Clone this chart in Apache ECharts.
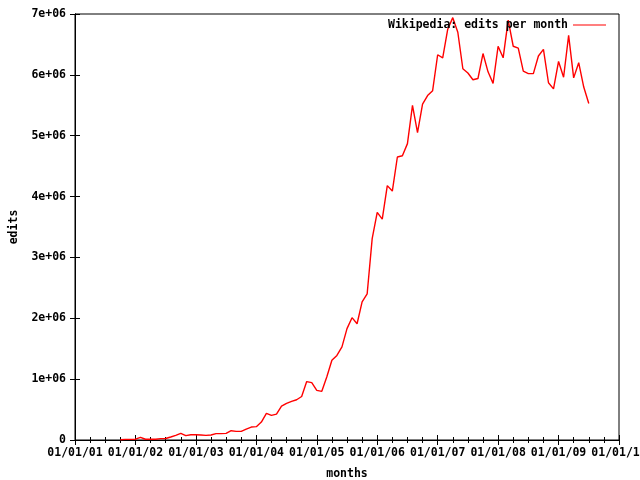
<!DOCTYPE html>
<html>
<head>
<meta charset="utf-8">
<script src="https://cdn.jsdelivr.net/npm/echarts@6/dist/echarts.min.js"></script>
<style>
  html, body { margin: 0; padding: 0; background: #fff; }
  #main { width: 640px; height: 480px; }
</style>
</head>
<body>
<div id="main"></div>
<script>
// monthly data
const months = [
  '2001-10', '2001-11', '2001-12',
  '2002-01', '2002-02', '2002-03', '2002-04', '2002-05', '2002-06', '2002-07', '2002-08', '2002-09', '2002-10', '2002-11', '2002-12',
  '2003-01', '2003-02', '2003-03', '2003-04', '2003-05', '2003-06', '2003-07', '2003-08', '2003-09', '2003-10', '2003-11', '2003-12',
  '2004-01', '2004-02', '2004-03', '2004-04', '2004-05', '2004-06', '2004-07', '2004-08', '2004-09', '2004-10', '2004-11', '2004-12',
  '2005-01', '2005-02', '2005-03', '2005-04', '2005-05', '2005-06', '2005-07', '2005-08', '2005-09', '2005-10', '2005-11', '2005-12',
  '2006-01', '2006-02', '2006-03', '2006-04', '2006-05', '2006-06', '2006-07', '2006-08', '2006-09', '2006-10', '2006-11', '2006-12',
  '2007-01', '2007-02', '2007-03', '2007-04', '2007-05', '2007-06', '2007-07', '2007-08', '2007-09', '2007-10', '2007-11', '2007-12',
  '2008-01', '2008-02', '2008-03', '2008-04', '2008-05', '2008-06', '2008-07', '2008-08', '2008-09', '2008-10', '2008-11', '2008-12',
  '2009-01', '2009-02', '2009-03', '2009-04', '2009-05', '2009-06', '2009-07'
];
const edits = [
  5000, 11000, 11000,
  13000, 44000, 12000, 12000, 13000, 22000, 25000, 49000, 76000, 109000, 71000, 87000,
  87000, 82000, 76000, 82000, 104000, 104000, 109000, 153000, 142000, 142000, 180000, 213000,
  219000, 295000, 437000, 404000, 426000, 557000, 601000, 634000, 661000, 715000, 960000, 942000,
  815000, 800000, 1040000, 1310000, 1390000, 1530000, 1830000, 2010000, 1910000, 2270000, 2400000, 3310000,
  3740000, 3630000, 4180000, 4090000, 4650000, 4670000, 4870000, 5500000, 5050000, 5520000, 5660000, 5740000,
  6330000, 6280000, 6750000, 6940000, 6700000, 6100000, 6030000, 5920000, 5940000, 6350000, 6050000, 5860000,
  6470000, 6280000, 6900000, 6470000, 6440000, 6060000, 6020000, 6020000, 6310000, 6420000, 5870000, 5770000,
  6220000, 5960000, 6650000, 5950000, 6200000, 5800000, 5530000
];
const yearTicks = ['01/01/01', '01/01/02', '01/01/03', '01/01/04', '01/01/05', '01/01/06', '01/01/07', '01/01/08', '01/01/09', '01/01/10'];
const yTicks = ['0', '1e+06', '2e+06', '3e+06', '4e+06', '5e+06', '6e+06', '7e+06'];

const startYear = 2001;
// months since Jan 2001 -> x value
function monthIndex(s) {
  let p = s.split('-');
  return (parseInt(p[0]) - startYear) * 12 + parseInt(p[1]) - 1;
}
const seriesData = months.map((m, i) => [monthIndex(m), edits[i]]);

const font = 'DejaVu Sans Mono';
const txt = { fontFamily: font, fontSize: 11.5, fontWeight: 'bold', color: '#000' };
const black = { color: '#000', width: 1 };

let myChart = echarts.init(document.getElementById('main'), null, { renderer: 'canvas' });
myChart.setOption({
  backgroundColor: '#fff',
  animation: false,
  grid: {
    left: 75, right: 21, top: 14, bottom: 40,
    containLabel: false,
    outerBoundsMode: 'none',
    show: true, borderColor: '#000', borderWidth: 1
  },
  legend: {
    right: 29, top: 14,
    align: 'right',
    icon: 'rect', itemWidth: 33, itemHeight: 1,
    textStyle: txt,
    data: ['Wikipedia: edits per month']
  },
  xAxis: [
    {
      type: 'value', min: 0, max: 108, interval: 12,
      name: 'months', nameLocation: 'middle', nameGap: 28,
      nameTextStyle: txt,
      axisLine: { show: true, lineStyle: black },
      axisTick: { inside: true, length: 5, lineStyle: black },
      minorTick: { show: true, splitNumber: 4, length: 3, lineStyle: black },
      splitLine: { show: false },
      axisLabel: Object.assign({ margin: 7, formatter: v => yearTicks[v / 12] }, txt)
    },
    {
      type: 'value', min: 0, max: 108, interval: 12, position: 'top',
      axisLine: { show: true, lineStyle: black },
      axisTick: { inside: true, length: 5, lineStyle: black },
      minorTick: { show: true, splitNumber: 4, length: 3, lineStyle: black },
      splitLine: { show: false },
      axisLabel: { show: false }
    }
  ],
  yAxis: [
    {
      type: 'value', min: 0, max: 7000000, interval: 1000000,
      name: 'edits', nameLocation: 'middle', nameGap: 55, nameRotate: 90,
      nameTextStyle: txt,
      axisLine: { show: true, lineStyle: black },
      axisTick: { show: true, inside: true, length: 5, lineStyle: black },
      splitLine: { show: false },
      axisLabel: Object.assign({ margin: 9, formatter: v => yTicks[Math.round(v / 1000000)] }, txt)
    },
    {
      type: 'value', min: 0, max: 7000000, interval: 1000000, position: 'right',
      axisLine: { show: true, lineStyle: black },
      axisTick: { show: true, inside: true, length: 5, lineStyle: black },
      splitLine: { show: false },
      axisLabel: { show: false }
    }
  ],
  series: [
    {
      name: 'Wikipedia: edits per month',
      type: 'line',
      xAxisIndex: 0, yAxisIndex: 0,
      data: seriesData,
      showSymbol: false,
      symbol: 'none',
      color: '#ff0000',
      lineStyle: { color: '#ff0000', width: 1.4 }
    }
  ]
});
</script>
</body>
</html>
